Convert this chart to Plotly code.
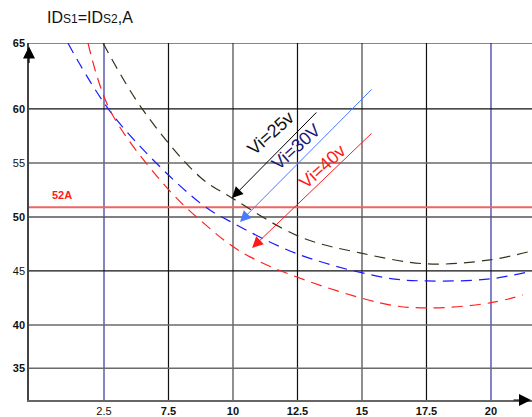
import plotly.graph_objects as go

# ---- data ----
x_black = [4.96, 6.51, 8.72, 9.96, 12.6, 14.92, 17.52, 19.96, 21.59]
y_black = [66.1, 59.9, 53.7, 51.76, 48.15, 46.67, 45.65, 46.02, 46.85]

x_blue = [3.60, 5.43, 8.72, 10.0, 12.6, 15.97, 17.52, 19.96, 21.59]
y_blue = [66.1, 59.17, 51.3, 49.44, 46.48, 44.35, 44.07, 44.26, 45.0]

x_red = [4.38, 5.23, 7.17, 8.72, 10.66, 15.70, 17.52, 19.96, 21.24]
y_red = [66.1, 59.9, 53.43, 49.72, 46.3, 42.04, 41.57, 42.04, 42.78]

limit_value = 50.9          # red "52A" line
limit_label = "52A"

x_grid_vals = [5, 7.5, 10, 12.5, 15, 17.5, 20]
x_tick_labels = ["2.5", "<b>7.5</b>", "<b>10</b>", "<b>12.5</b>", "<b>15</b>", "<b>17.5</b>", "<b>20</b>"]
x_grid_colors = ["#5a5ab4", "#111111", "#6a6a6a", "#111111", "#6a6a6a", "#111111", "#5a5ab4"]

y_grid_vals = [36.0, 40, 45, 50, 55, 60, 66.1]
y_tick_labels = ["<b>35</b>", "<b>40</b>", "45", "<b>50</b>", "55", "<b>60</b>", "<b>65</b>"]
y_grid_colors = ["#6a6a6a", "#6a6a6a", "#111111", "#555555", "#6a6a6a", "#111111", "#111111"]

series_labels = ["Vi=25v", "Vi=30V", "Vi=40v"]
label_pos_x = [11.47, 12.44, 13.45]
label_pos_y = [57.78, 56.48, 54.63]
arrow_tip_x = [9.96, 10.27, 10.74]
arrow_tip_y = [51.76, 49.54, 47.13]
arrow_tail_x = [13.29, 15.43, 15.43]
arrow_tail_y = [59.81, 61.94, 57.87]
label_colors = ["#111111", "#1a1a7a", "#ff1a1a"]
arrow_colors = ["#000000", "#4a7aff", "#ff1a1a"]

X_RANGE = [2.093, 21.59]
Y_RANGE = [33.05, 66.1]

FONT = "Liberation Sans, Arial, sans-serif"

fig = go.Figure()

# grid lines
shapes = []
for xv, c in zip(x_grid_vals, x_grid_colors):
    shapes.append(dict(type="line", xref="x", yref="paper", x0=xv, x1=xv, y0=0, y1=1,
                       line=dict(color=c, width=1.5 if c != "#111111" else 1.2), layer="below"))
for yv, c in zip(y_grid_vals, y_grid_colors):
    shapes.append(dict(type="line", xref="paper", yref="y", x0=0, x1=1, y0=yv, y1=yv,
                       line=dict(color=c, width=1.5 if c != "#111111" else 1.2), layer="below"))
# limit line
shapes.append(dict(type="line", xref="paper", yref="y", x0=0, x1=1, y0=limit_value, y1=limit_value,
                   line=dict(color="#f06464", width=2), layer="below"))

curve_colors = ["#33331a", "#1a1aff", "#ff2020"]
for xs, ys, col, name in zip([x_black, x_blue, x_red], [y_black, y_blue, y_red], curve_colors, series_labels):
    fig.add_trace(go.Scatter(x=xs, y=ys, mode="lines", name=name,
                             line=dict(color=col, width=1.2, dash="11px,7px", shape="spline", smoothing=1.0),
                             cliponaxis=True, showlegend=False, hoverinfo="skip"))

annotations = []
for t, lx, ly, tx, ty, ax, ay, lc, ac in zip(series_labels, label_pos_x, label_pos_y, arrow_tip_x,
                                              arrow_tip_y, arrow_tail_x, arrow_tail_y, label_colors, arrow_colors):
    annotations.append(dict(x=tx, y=ty, ax=ax, ay=ay, xref="x", yref="y", axref="x", ayref="y",
                            text="", showarrow=True, arrowhead=2, arrowsize=2.2, arrowwidth=1,
                            arrowcolor=ac))
    annotations.append(dict(x=lx, y=ly, xref="x", yref="y", text=t, showarrow=False,
                            textangle=-42, font=dict(family=FONT, size=18, color=lc)))

annotations.append(dict(x=3.37, y=52.04, xref="x", yref="y", text="<b>%s</b>" % limit_label,
                        showarrow=False, font=dict(family=FONT, size=11, color="#ff1a1a")))

# title
annotations.append(dict(x=(45 - 29) / 503, y=(400 - 17) / 357, xref="paper", yref="paper",
                        xanchor="left", yanchor="middle", showarrow=False,
                        text="ID<span style='font-size:12px'>S1</span>=ID<span style='font-size:12px'>S2</span>,A",
                        font=dict(family=FONT, size=16, color="#111111")))

# axis arrows
annotations.append(dict(x=0, y=0.99, xref="paper", yref="paper", ax=0, ay=18, text="",
                        showarrow=True, arrowhead=2, arrowsize=2, arrowwidth=1.2, arrowcolor="#000000"))
annotations.append(dict(x=1.0, y=0, xref="paper", yref="paper", ax=-20, ay=0, text="",
                        showarrow=True, arrowhead=2, arrowsize=2, arrowwidth=1.2, arrowcolor="#000000"))

fig.update_layout(
    width=532, height=417,
    margin=dict(l=29, r=0, t=43, b=17, autoexpand=False),
    paper_bgcolor="white", plot_bgcolor="white",
    shapes=shapes, annotations=annotations,
    font=dict(family=FONT, size=11, color="#111111"),
    xaxis=dict(range=X_RANGE, tickvals=x_grid_vals, ticktext=x_tick_labels, showgrid=False,
               zeroline=False, showline=True, linecolor="#666666", linewidth=1.5, ticks="",
               tickfont=dict(family=FONT, size=11, color="#111111"), automargin=False),
    yaxis=dict(range=Y_RANGE, tickvals=y_grid_vals, ticktext=y_tick_labels, showgrid=False,
               zeroline=False, showline=True, linecolor="#444444", linewidth=1.5, ticks="",
               tickfont=dict(family=FONT, size=11, color="#111111"), automargin=False),
)

fig.write_html("out.html", config={"displayModeBar": False},
               post_script="document.body.style.margin='0px';")
